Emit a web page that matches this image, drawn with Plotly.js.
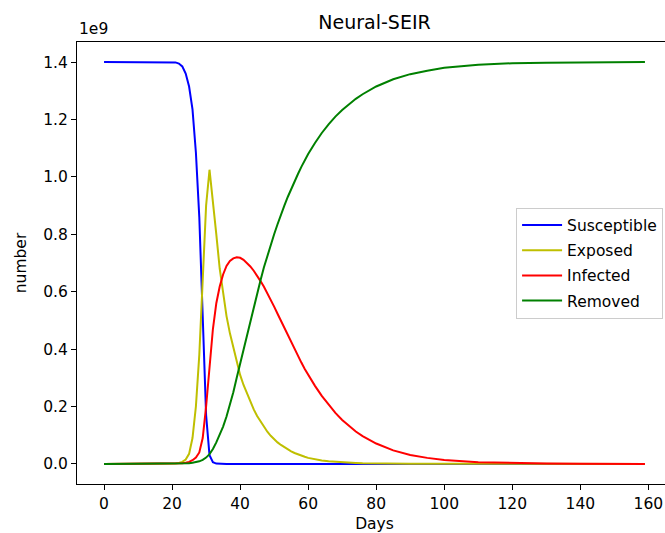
<!DOCTYPE html>
<html>
<head>
<meta charset="utf-8">
<script src="https://cdn.plot.ly/plotly-3.0.1.min.js"></script>
<style>
html,body{margin:0;padding:0;overflow:hidden;background:#fff;}
#chart{width:680px;height:533px;}
</style>
</head>
<body>
<div id="chart"></div>
<script>
// Days sampled (values in units of 1e9)
const days = [0,5,10,15,18,20,21,22,23,24,25,26,27,28,29,30,31,32,33,34,35,36,37,38,39,40,
  41,42,43,44,45,46,47,48,49,50,51,52,53,54,55,56,57,58,59,60,
  62,64,66,68,70,72,74,76,78,80,85,90,95,100,110,120,130,140,150,159];

const susceptible = [1.4,1.4,1.4,1.4,1.4,1.4,1.399,1.395,1.385,1.36,1.315,1.235,1.085,0.86,0.53,0.17,
  0.03,0.006,0.001,0,0,0,0,0,0,0,
  0,0,0,0,0,0,0,0,0,0,0,0,0,0,0,0,0,0,0,0,
  0,0,0,0,0,0,0,0,0,0,0,0,0,0,0,0,0,0,0,0];

const exposed = [0,0,0,0.0001,0.0003,0.0008,0.0015,0.003,0.007,0.015,0.035,0.09,0.2,0.38,0.63,0.9,
  1.025,0.92,0.8,0.68,0.59,0.515,0.455,0.405,0.35,0.31,
  0.275,0.245,0.215,0.19,0.167,0.147,0.128,0.112,0.098,0.086,0.075,0.066,0.058,0.051,0.044,0.038,0.033,0.029,0.025,0.021,
  0.016,0.012,0.009,0.007,0.005,0.004,0.003,0.002,0.0015,0.001,0.0005,0.0003,0.0002,0.0001,0,0,0,0,0,0];

const infected = [0,0,0,0,0.0001,0.0003,0.0005,0.001,0.002,0.004,0.007,0.013,0.022,0.04,0.09,0.2,
  0.34,0.47,0.56,0.618,0.66,0.69,0.707,0.716,0.72,0.718,
  0.711,0.701,0.688,0.673,0.656,0.637,0.617,0.595,0.572,0.548,0.523,0.498,0.473,0.448,0.423,0.399,0.376,0.353,0.331,0.31,
  0.272,0.237,0.206,0.178,0.153,0.132,0.113,0.097,0.083,0.071,0.047,0.031,0.021,0.014,0.006,0.003,0.0013,0.0006,0.0003,0.0001];

const removed = [0,0,0,0,0,0.0001,0.0002,0.0004,0.0008,0.0015,0.0025,0.004,0.006,0.009,0.014,0.022,
  0.034,0.052,0.075,0.1,0.13,0.165,0.205,0.25,0.3,0.35,
  0.4,0.45,0.5,0.55,0.595,0.64,0.685,0.725,0.765,0.8,0.835,0.87,0.9,0.93,0.958,0.985,1.01,1.035,1.058,1.08,
  1.118,1.153,1.183,1.21,1.233,1.254,1.272,1.288,1.302,1.315,1.34,1.358,1.37,1.38,1.391,1.396,1.398,1.399,1.4,1.4];

const seriesNames = ['Susceptible','Exposed','Infected','Removed'];
const seriesColors = ['#0000ff','#bfbf00','#ff0000','#008000'];
const seriesData = [susceptible, exposed, infected, removed];
const xTicks = [0,20,40,60,80,100,120,140,160];
const yTicks = [0,0.2,0.4,0.6,0.8,1.0,1.2,1.4];

const FONT = 'DejaVu Sans, sans-serif';
const FS = 15.5;

const traces = seriesData.map((vals, i) => ({
  x: days, y: vals, type: 'scatter', mode: 'lines',
  name: seriesNames[i], legendgroup: 'g' + i,
  line: {color: seriesColors[i], width: 2}
}));

const axisCommon = {
  showline: true, mirror: true, linecolor: '#000', linewidth: 1,
  ticks: 'outside', ticklen: 5, tickwidth: 1, tickcolor: '#000',
  showgrid: false, zeroline: false,
  tickfont: {family: FONT, size: FS, color: '#000'}
};

const layout = {
  width: 680, height: 533,
  margin: {l: 77, r: 8, t: 42, b: 49},
  paper_bgcolor: '#fff', plot_bgcolor: '#fff',
  font: {family: FONT, color: '#000'},
  title: {text: 'Neural-SEIR', font: {family: FONT, size: 19, color: '#000'},
    xref: 'paper', x: 0.5, xanchor: 'center', yref: 'container', y: 0.958, yanchor: 'middle'},
  xaxis: Object.assign({}, axisCommon, {
    range: [-7.95, 166.95], tickvals: xTicks, ticktext: xTicks.map(String),
    title: {text: 'Days', font: {family: FONT, size: FS, color: '#000'}, standoff: 8}
  }),
  yaxis: Object.assign({}, axisCommon, {
    range: [-0.07, 1.47], tickvals: yTicks, ticktext: yTicks.map(v => v.toFixed(1)),
    title: {text: 'number', font: {family: FONT, size: FS, color: '#000'}, standoff: 12}
  }),
  showlegend: true,
  legend: {
    x: 0.985, xanchor: 'right', y: 0.5, yanchor: 'middle',
    bgcolor: 'rgba(255,255,255,0.8)', bordercolor: '#cccccc', borderwidth: 1,
    font: {family: FONT, size: FS, color: '#000'},
    traceorder: 'grouped', tracegroupgap: 2, itemwidth: 40
  },
  annotations: [{
    text: '1e9', xref: 'paper', yref: 'paper', x: 0, y: 1,
    xanchor: 'left', yanchor: 'bottom', showarrow: false, yshift: 2,
    font: {family: FONT, size: FS, color: '#000'}
  }]
};

Plotly.newPlot('chart', traces, layout, {displayModeBar: false, staticPlot: true});
</script>
</body>
</html>
